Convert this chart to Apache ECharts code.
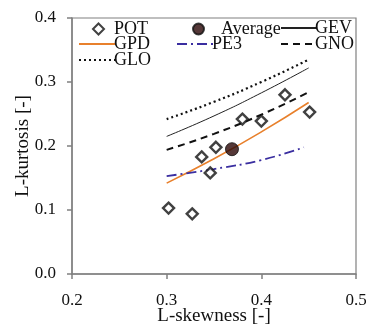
<!DOCTYPE html>
<html>
<head>
<meta charset="utf-8">
<script src="https://cdn.jsdelivr.net/npm/echarts@6/dist/echarts.min.js"></script>
<style>
html,body{margin:0;padding:0;background:#fff;}
#chart{width:366px;height:325px;}
</style>
</head>
<body>
<div id="chart"></div>
<script>
// Observed POT points
var potX = [0.302, 0.327, 0.346, 0.337, 0.352, 0.380, 0.400, 0.425, 0.451];
var potY = [0.103, 0.094, 0.158, 0.183, 0.198, 0.242, 0.239, 0.280, 0.253];
// Average point
var avgX = [0.369];
var avgY = [0.195];
// Theoretical curves
var curveX = [0.30, 0.35, 0.40, 0.45];
var gloY = [0.242, 0.269, 0.300, 0.335];
var gevY = [0.215, 0.247, 0.283, 0.322];
var gnoY = [0.194, 0.219, 0.249, 0.284];
var gpdY = [0.142, 0.180, 0.222, 0.268];
var pe3X = [0.30, 0.35, 0.40, 0.445];
var pe3Y = [0.153, 0.164, 0.178, 0.198];
// Axis ticks
var xTicks = [0.2, 0.3, 0.4, 0.5];
var yTicks = [0.0, 0.1, 0.2, 0.3, 0.4];

function zip(xs, ys){ return xs.map(function(x,i){ return [x, ys[i]]; }); }

var FONT = 'Liberation Serif';
var AXC = '#808080';
var TXT = '#111';

function legLine(name, left, top, w){
  return {
    data:[name], left:left, top:top, itemWidth:w, itemHeight:14, itemGap:0, padding:0,
    itemStyle:{color:'rgba(0,0,0,0)', borderWidth:0},
    textStyle:{fontFamily:FONT, fontSize:18, color:TXT, padding:[0,0,0,-6]},
    selectedMode:false
  };
}
function legSym(name, left, top, s, pad){
  return {
    data:[name], left:left, top:top, itemWidth:s, itemHeight:s, itemGap:0, padding:0,
    textStyle:{fontFamily:FONT, fontSize:18, color:TXT, padding:[0,0,0,pad]},
    selectedMode:false
  };
}

var chart = echarts.init(document.getElementById('chart'), null, {renderer:'canvas'});
chart.setOption({
  animation:false,
  backgroundColor:'#fff',
  grid:{left:72, right:10, top:18, bottom:51, show:true, borderColor:AXC, borderWidth:1.2,
        backgroundColor:'transparent', outerBoundsMode:'none', containLabel:false},
  legend:[
    legSym('POT', 92, 20, 11, 5),
    legSym('Average', 192, 20, 11, 12),
    legLine('GEV', 280, 19, 35),
    legLine('GPD', 78, 35, 36),
    legLine('PE3', 176, 35, 36),
    legLine('GNO', 280, 35, 35),
    legLine('GLO', 78, 51, 36)
  ],
  xAxis:{
    type:'value', min:xTicks[0], max:xTicks[xTicks.length-1], interval:0.1,
    name:'L-skewness [-]', nameLocation:'middle', nameGap:33, nameMoveOverlap:false,
    nameTextStyle:{fontFamily:FONT, fontSize:19, color:TXT},
    axisLine:{show:true, lineStyle:{color:AXC, width:1.5}},
    axisTick:{show:true, inside:false, length:5, lineStyle:{color:AXC, width:1.5}},
    axisLabel:{fontFamily:FONT, fontSize:17, color:TXT, margin:18, formatter:function(v){return v.toFixed(1);}},
    splitLine:{show:false}
  },
  yAxis:{
    type:'value', min:yTicks[0], max:yTicks[yTicks.length-1], interval:0.1,
    name:'L-kurtosis [-]', nameLocation:'middle', nameGap:39, nameRotate:90, nameMoveOverlap:false,
    nameTextStyle:{fontFamily:FONT, fontSize:19, color:TXT},
    axisLine:{show:true, lineStyle:{color:AXC, width:1.5}},
    axisTick:{show:true, inside:false, length:5, lineStyle:{color:AXC, width:1.5}},
    axisLabel:{fontFamily:FONT, fontSize:17, color:TXT, margin:16, formatter:function(v){return v.toFixed(1);}},
    splitLine:{show:false}
  },
  series:[
    {name:'GLO', type:'line', data:zip(curveX, gloY), smooth:true, symbol:'none',
     lineStyle:{color:'#111', width:2.2, type:[2,3]}, itemStyle:{color:'#111'}, z:2},
    {name:'GEV', type:'line', data:zip(curveX, gevY), smooth:true, symbol:'none',
     lineStyle:{color:'#222', width:1}, itemStyle:{color:'#222'}, z:2},
    {name:'GNO', type:'line', data:zip(curveX, gnoY), smooth:true, symbol:'none',
     lineStyle:{color:'#111', width:2, type:[7,5]}, itemStyle:{color:'#111'}, z:2},
    {name:'GPD', type:'line', data:zip(curveX, gpdY), smooth:true, symbol:'none',
     lineStyle:{color:'#e8802c', width:1.6}, itemStyle:{color:'#e8802c'}, z:2},
    {name:'PE3', type:'line', data:zip(pe3X, pe3Y), smooth:true, symbol:'none',
     lineStyle:{color:'#3a2ea0', width:1.8, type:[10,4,2,4]}, itemStyle:{color:'#3a2ea0'}, z:2},
    {name:'POT', type:'scatter', data:zip(potX, potY), symbol:'diamond', symbolSize:11,
     itemStyle:{color:'#fff', borderColor:'#111', borderWidth:2.4}, z:4},
    {name:'Average', type:'scatter', data:zip(avgX, avgY), symbol:'circle', symbolSize:13,
     itemStyle:{color:'#2a0606', borderColor:'#111', borderWidth:1}, z:5}
  ]
});
</script>
</body>
</html>
